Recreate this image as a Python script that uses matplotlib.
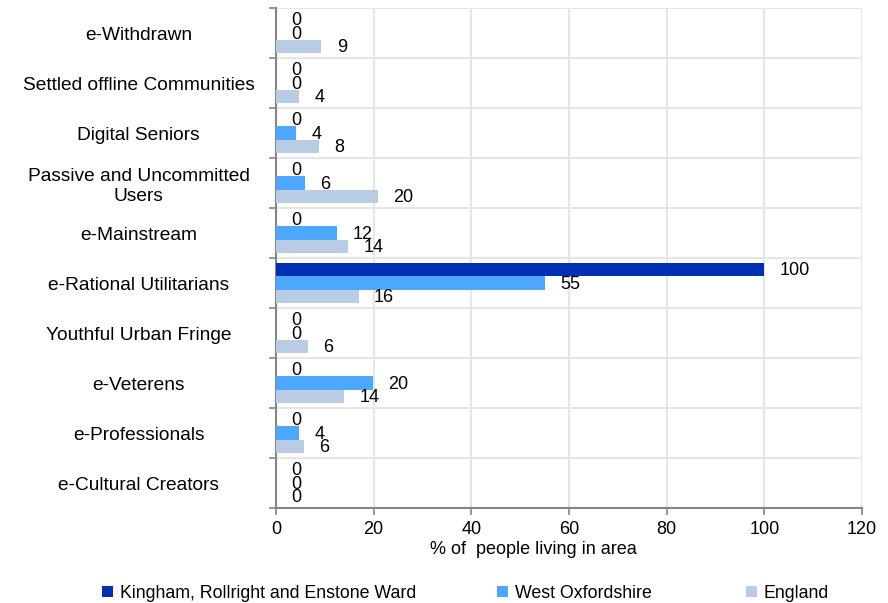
import matplotlib
matplotlib.use("Agg")
import matplotlib.pyplot as plt
import numpy as np

plt.rcParams['font.family'] = ['Liberation Sans', 'DejaVu Sans']

categories = ["e-Withdrawn", "Settled offline Communities", "Digital Seniors",
              "Passive and Uncommitted\nUsers", "e-Mainstream", "e-Rational Utilitarians",
              "Youthful Urban Fringe", "e-Veterens", "e-Professionals", "e-Cultural Creators"]
series_names = ["Kingham, Rollright and Enstone Ward", "West Oxfordshire", "England"]
# bar lengths
ward = [0, 0, 0, 0, 0, 100, 0, 0, 0, 0]
west_oxon = [0, 0, 4.1, 5.9, 12.5, 55, 0, 19.9, 4.7, 0]
england = [9.3, 4.7, 8.8, 20.8, 14.8, 16.9, 6.5, 14.0, 5.8, 0]
# data labels as printed on the picture
ward_labels = ["0", "0", "0", "0", "0", "100", "0", "0", "0", "0"]
west_oxon_labels = ["0", "0", "4", "6", "12", "55", "0", "20", "4", "0"]
england_labels = ["9", "4", "8", "20", "14", "16", "6", "14", "6", "0"]
colors = ["#0030B4", "#4DA7FF", "#B8CCE4"]
x_ticks = [0, 20, 40, 60, 80, 100, 120]

fig = plt.figure(figsize=(8.88, 6.03), dpi=100)
ax = fig.add_axes([276/888, 1-508/603, (862-276)/888, 500/603])

y = np.arange(len(categories))
h = 0.27
bars = []
for k, (vals, labs, col) in enumerate(zip([ward, west_oxon, england],
                                          [ward_labels, west_oxon_labels, england_labels],
                                          colors)):
    pos = y + (k - 1) * h
    b = ax.barh(pos, vals, height=h, color=col, label=series_names[k], zorder=3)
    bars.append(b)
    for p, v, lab in zip(pos, vals, labs):
        ax.annotate(lab, xy=(v, p), xytext=(11, -1), textcoords='offset points',
                    va='center', ha='left', fontsize=13, color='black', zorder=4)

ax.set_ylim(len(categories) - 0.5, -0.5)
ax.set_xlim(0, 120)
ax.set_xticks(x_ticks)
ax.set_xticklabels([str(t) for t in x_ticks], fontsize=13)
ax.set_yticks(y)
ax.set_yticklabels(categories, fontsize=13.8, ha='center', multialignment='center')
ax.set_yticks(np.arange(-0.5, len(categories), 1), minor=True)
ax.tick_params(axis='y', which='major', length=0, pad=99)
ax.tick_params(axis='y', which='minor', length=5, color='#868686', width=1.2, direction='out')
ax.tick_params(axis='x', which='major', length=5, color='#868686', width=1.2, direction='out', pad=4)

ax.grid(axis='x', which='major', color='#E6E6E6', linewidth=1.5, zorder=0)
ax.grid(axis='y', which='minor', color='#E6E6E6', linewidth=1.5, zorder=0)
ax.grid(axis='y', which='major', visible=False)
for s in ['top', 'right']:
    ax.spines[s].set_visible(False)
for s in ['left', 'bottom']:
    ax.spines[s].set_color('#868686')
    ax.spines[s].set_linewidth(1.5)
ax.set_axisbelow(True)

ax.set_xlabel("% of  people living in area", fontsize=13)
ax.xaxis.set_label_coords((533 - 276) / 586, -(549 - 508) / 500)
ax.xaxis.label.set_va('center')

legend_x = [102, 497, 746]
for b, name, lx in zip(bars, series_names, legend_x):
    fig.legend([b], [name], loc='center left', bbox_to_anchor=(lx/888, 1-593/603),
               frameon=False, fontsize=12.8, handlelength=0.6, handleheight=0.6,
               handletextpad=0.4, borderpad=0, borderaxespad=0)

fig.savefig("out.png", dpi=100)
